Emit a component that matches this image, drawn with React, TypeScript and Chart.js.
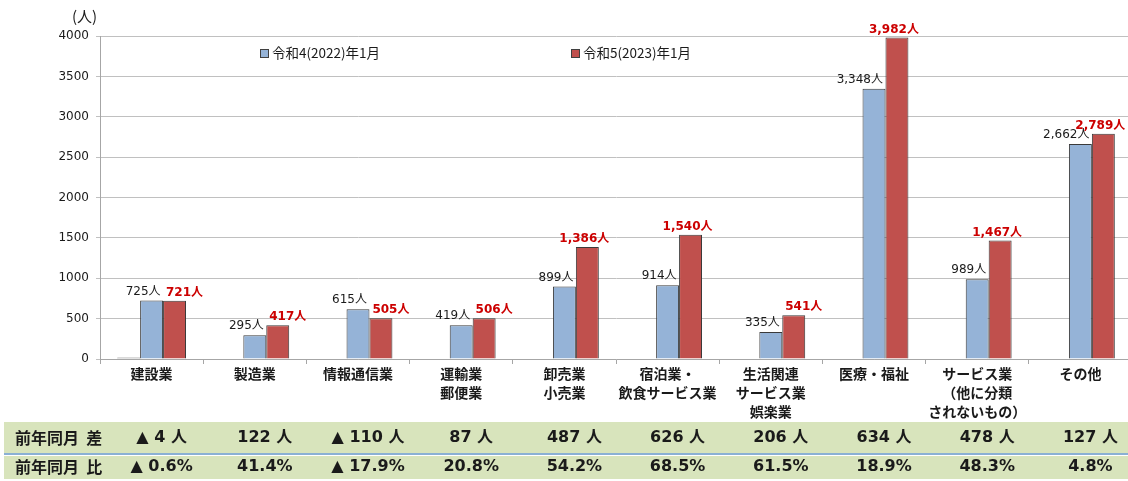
import React, { useEffect, useRef } from "react";
import { Chart, registerables } from "chart.js";
Chart.register(...registerables);

const categories: string[][] = [
  ["建設業"],
  ["製造業"],
  ["情報通信業"],
  ["運輸業", "郵便業"],
  ["卸売業", "小売業"],
  ["宿泊業・", "飲食サービス業"],
  ["生活関連", "サービス業", "娯楽業"],
  ["医療・福祉"],
  ["サービス業", "（他に分類", "されないもの）"],
  ["その他"],
];
const values2022 = [725, 295, 615, 419, 899, 914, 335, 3348, 989, 2662];
const values2023 = [721, 417, 505, 506, 1386, 1540, 541, 3982, 1467, 2789];
const baseSeries = [20, null, null, null, null, null, null, null, null, null];
const seriesNames = ["令和4(2022)年1月", "令和5(2023)年1月"];
const yTicks = [0, 500, 1000, 1500, 2000, 2500, 3000, 3500, 4000];
const rowTitles = ["前年同月  差", "前年同月  比"];

const BLUE = "#95B3D7";
const RED = "#C0504D";
const LATIN = "'DejaVu Sans', 'Noto Sans CJK JP', sans-serif";
const CJK = "'Noto Sans CJK JP', 'DejaVu Sans', sans-serif";

const fmt = (n: number) => n.toLocaleString("en-US");
const diffText = (i: number) => {
  const d = values2023[i] - values2022[i];
  return (d < 0 ? "▲ " : "") + Math.abs(d) + " 人";
};
const ratioText = (i: number) => {
  const d = ((values2023[i] - values2022[i]) / values2022[i]) * 100;
  return (d < 0 ? "▲ " : "") + Math.abs(d).toFixed(1) + "%";
};

const overlay = {
  id: "overlay",
  beforeDraw(chart: any) {
    const ctx = chart.ctx;
    ctx.save();
    ctx.fillStyle = "#D8E4BC";
    ctx.fillRect(4, 422, 1130, 31);
    ctx.fillRect(4, 456, 1130, 23);
    ctx.fillStyle = "#8AB0D4";
    ctx.fillRect(4, 453, 1130, 2);
    ctx.restore();
  },
  afterDraw(chart: any) {
    const ctx = chart.ctx;
    const xs = chart.scales.x;
    ctx.save();
    // unit
    ctx.fillStyle = "#1a1a1a";
    ctx.font = `15px ${CJK}`;
    ctx.textBaseline = "middle";
    ctx.textAlign = "left";
    ctx.fillText("(人)", 72, 16);
    // legend
    const legend = [
      { x: 260, color: BLUE, text: seriesNames[0] },
      { x: 571, color: RED, text: seriesNames[1] },
    ];
    legend.forEach((l) => {
      ctx.fillStyle = l.color;
      ctx.fillRect(l.x, 49, 8, 8);
      ctx.strokeStyle = "#404040";
      ctx.lineWidth = 1;
      ctx.strokeRect(l.x + 0.5, 49.5, 8, 8);
      ctx.fillStyle = "#1a1a1a";
      ctx.font = `13.5px ${CJK}`;
      ctx.fillText(l.text, l.x + 12, 53);
    });
    // data labels
    const m1 = chart.getDatasetMeta(1);
    const m2 = chart.getDatasetMeta(2);
    m1.data.forEach((bar: any, i: number) => {
      ctx.fillStyle = "#1a1a1a";
      ctx.font = `12px ${LATIN}`;
      ctx.textAlign = "right";
      ctx.textBaseline = "middle";
      ctx.fillText(fmt(values2022[i]) + "人", bar.x + 9, bar.y - 9);
    });
    m2.data.forEach((bar: any, i: number) => {
      ctx.fillStyle = "#CC0000";
      ctx.font = `bold 12px ${LATIN}`;
      ctx.textAlign = "center";
      ctx.textBaseline = "middle";
      const dx = values2023[i] < 1000 ? 10 : -3;
      ctx.fillText(fmt(values2023[i]) + "人", bar.x + dx, bar.y - 8);
    });
    // table
    ctx.fillStyle = "#1a1a1a";
    ctx.font = `bold 16px ${CJK}`;
    ctx.textAlign = "left";
    ctx.fillText(rowTitles[0], 15, 438);
    ctx.fillText(rowTitles[1], 15, 467);
    ctx.font = `bold 16px ${LATIN}`;
    ctx.textAlign = "center";
    categories.forEach((_, i) => {
      const cx = xs.getPixelForValue(i) + 10;
      ctx.fillText(diffText(i), cx, 438);
      ctx.fillText(ratioText(i), cx, 467);
    });
    ctx.restore();
  },
};

export default function App() {
  const ref = useRef<HTMLCanvasElement>(null);
  useEffect(() => {
    const chart = new Chart(ref.current!, {
      type: "bar",
      data: {
        labels: categories,
        datasets: [
          { label: "base", data: baseSeries as any, backgroundColor: "#8C8C8C", borderColor: "#6E6E6E", borderWidth: 1 },
          { label: seriesNames[0], data: values2022, backgroundColor: BLUE, borderColor: "#3a3a3a", borderWidth: 1 },
          { label: seriesNames[1], data: values2023, backgroundColor: RED, borderColor: "#3a3a3a", borderWidth: 1 },
        ],
      },
      options: {
        responsive: false,
        animation: false,
        devicePixelRatio: 1,
        layout: { padding: { top: 36, left: 0, right: 0, bottom: 0 } },
        datasets: { bar: { categoryPercentage: 0.667, barPercentage: 1, grouped: true } },
        plugins: { legend: { display: false }, tooltip: { enabled: false } },
        scales: {
          x: {
            grid: { drawOnChartArea: false, tickLength: 5, color: "#A6A6A6" },
            border: { color: "#A6A6A6" },
            ticks: {
              font: { family: CJK, size: 14, weight: "bold", lineHeight: 19 / 14 },
              color: "#1a1a1a",
              padding: 0,
              maxRotation: 0,
              autoSkip: false,
            },
            afterFit: (s: any) => {
              s.height = 122;
            },
          },
          y: {
            min: 0,
            max: 4000,
            afterBuildTicks: (s: any) => {
              s.ticks = yTicks.map((v) => ({ value: v }));
            },
            ticks: {
              font: { family: LATIN, size: 12 },
              color: "#1a1a1a",
              padding: 7,
              callback: (v: any) => String(v),
            },
            grid: { color: "#C0C0C0", tickLength: 4 },
            border: { color: "#A6A6A6" },
            afterFit: (s: any) => {
              s.width = 100;
            },
          },
        },
      } as any,
      plugins: [overlay],
    });
    return () => chart.destroy();
  }, []);
  return (
    <div style={{ position: "absolute", left: 0, top: 0, width: 1128, height: 481, overflow: "hidden", background: "#fff" }}>
      <canvas ref={ref} width={1132} height={481} style={{ width: 1132, height: 481 }} />
    </div>
  );
}
